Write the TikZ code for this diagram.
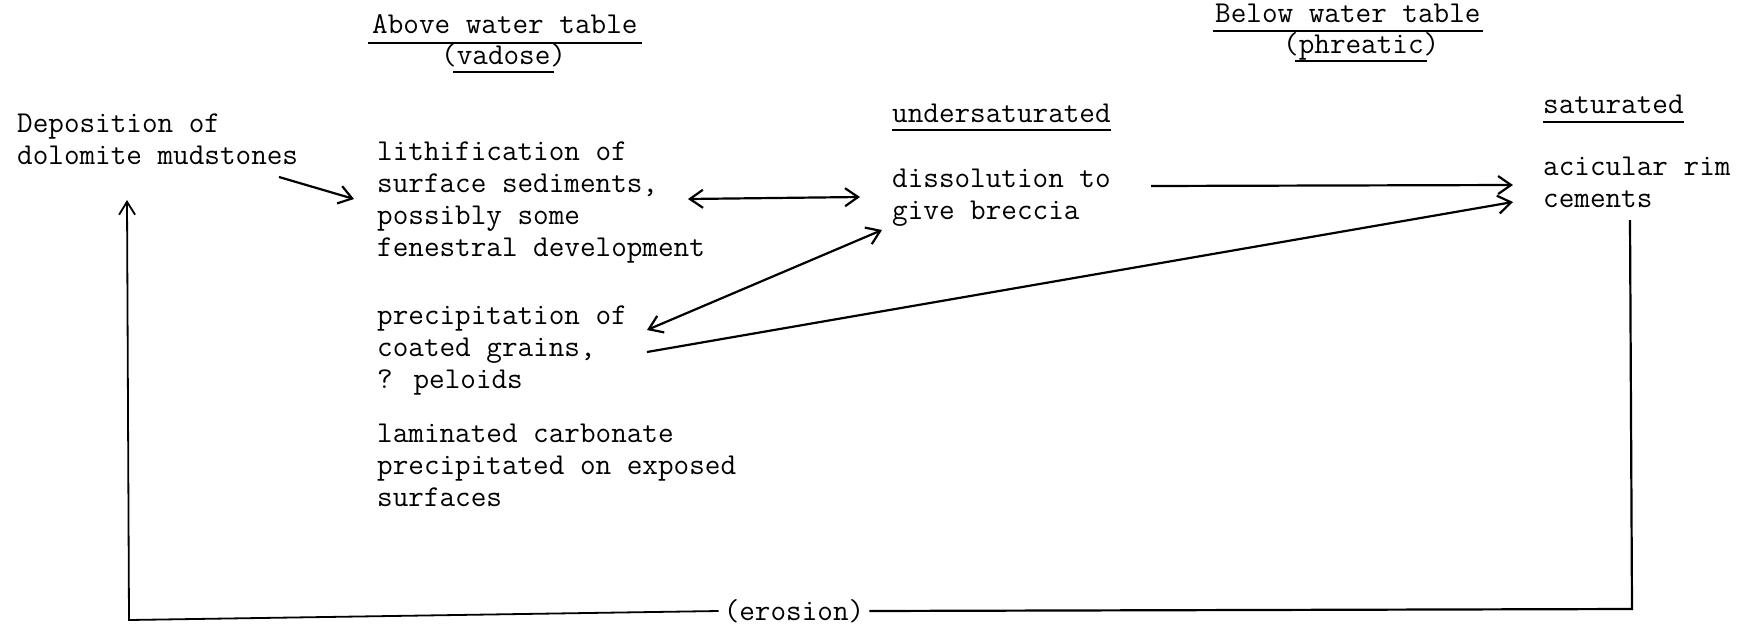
\documentclass[tikz,border=0pt]{standalone}
\usepackage{fontspec}
\usetikzlibrary{arrows.meta}
\newcommand\txtlines[1]{\begin{tabular}[t]{@{}l@{}}#1\end{tabular}}
\begin{document}
\begin{tikzpicture}[x=1pt,y=-1pt,
  txt/.style={font=\fontsize{30.3}{32}\selectfont\ttfamily\addfontfeature{FakeBold=0.8}, inner sep=0pt, anchor=base west},
  conn/.style={line width=2.2pt},
  arr/.style={conn, -{Straight Barb[length=13pt,width=18pt,line width=2.2pt]}},
  darr/.style={conn, {Straight Barb[length=13pt,width=18pt,line width=2.2pt]}-{Straight Barb[length=13pt,width=18pt,line width=2.2pt]}},
  uline/.style={line width=2.6pt}]
\useasboundingbox (0,0) rectangle (1751,624);

% headings
\node[txt] (t1) at (372,33) {Above water table};
\draw[uline] ([xshift=-4pt,yshift=-10pt]t1.base west) -- ([xshift=4pt,yshift=-10pt]t1.base east);
\node[txt] (vad) at (441,64) {(vadose)};
\draw[uline] ([xshift=12pt,yshift=-8pt]vad.base west) -- ([xshift=-12pt,yshift=-8pt]vad.base east);
\node[txt] (t2) at (1215,22) {Below water table};
\draw[uline] ([xshift=-2pt,yshift=-9pt]t2.base west) -- ([xshift=2pt,yshift=-9pt]t2.base east);
\node[txt] (phr) at (1283,53) {(phreatic)};
\draw[uline] ([xshift=12pt,yshift=-8pt]phr.base west) -- ([xshift=-12pt,yshift=-8pt]phr.base east);

% texts
\node[txt] (dep) at (17,132) {\txtlines{Deposition of\\dolomite mudstones}};
\node[txt] (lith) at (377,160) {\txtlines{lithification of\\surface sediments,\\possibly some\\fenestral development}};
\node[txt] (prec) at (377,324) {\txtlines{precipitation of\\coated grains,\\? peloids}};
\node[txt] (lam) at (377,442) {\txtlines{laminated carbonate\\precipitated on exposed\\surfaces}};
\node[txt] (und) at (892,122) {undersaturated};
\draw[uline] ([yshift=-8pt]und.base west) -- ([yshift=-8pt]und.base east);
\node[txt] (diss) at (892,187) {\txtlines{dissolution to\\give breccia}};
\node[txt] (sat) at (1543,113) {saturated};
\draw[uline] ([yshift=-9pt]sat.base west) -- ([yshift=-9pt]sat.base east);
\node[txt] (acic) at (1543,175) {\txtlines{acicular rim\\cements}};
\node[txt, anchor=center, inner xsep=5pt] (ero) at (794,611) {(erosion)};

% connectors
\draw[arr] ([xshift=262pt,yshift=-45pt]dep.base west) -- ([xshift=-23pt,yshift=-39pt]lith.base west);
\draw[darr] ([xshift=311pt,yshift=-39pt]lith.base west) -- ([xshift=-32pt,yshift=-10pt]diss.base west);
\draw[darr] ([xshift=270pt,yshift=-6pt]prec.base west) -- ([xshift=-10pt,yshift=-43pt]diss.base west);
\draw[arr] ([xshift=259pt,yshift=1pt]diss.base west) -- ([xshift=-30pt,yshift=-10pt]acic.base west);
\draw[arr] ([xshift=270pt,yshift=-28pt]prec.base west) -- ([xshift=-30pt,yshift=-27pt]acic.base west);

\coordinate (cR) at (1632,609);
\coordinate (cL) at (129,620);
\draw[conn] ([xshift=87pt,yshift=-45pt]acic.base west) -- (cR) -- (ero.east);
\draw[conn, line width=1.8pt, -{Straight Barb[length=13pt,width=16pt,line width=1.8pt]}] (ero.west) -- (cL) -- ([xshift=110pt,yshift=-68pt]dep.base west);
\end{tikzpicture}
\end{document}
